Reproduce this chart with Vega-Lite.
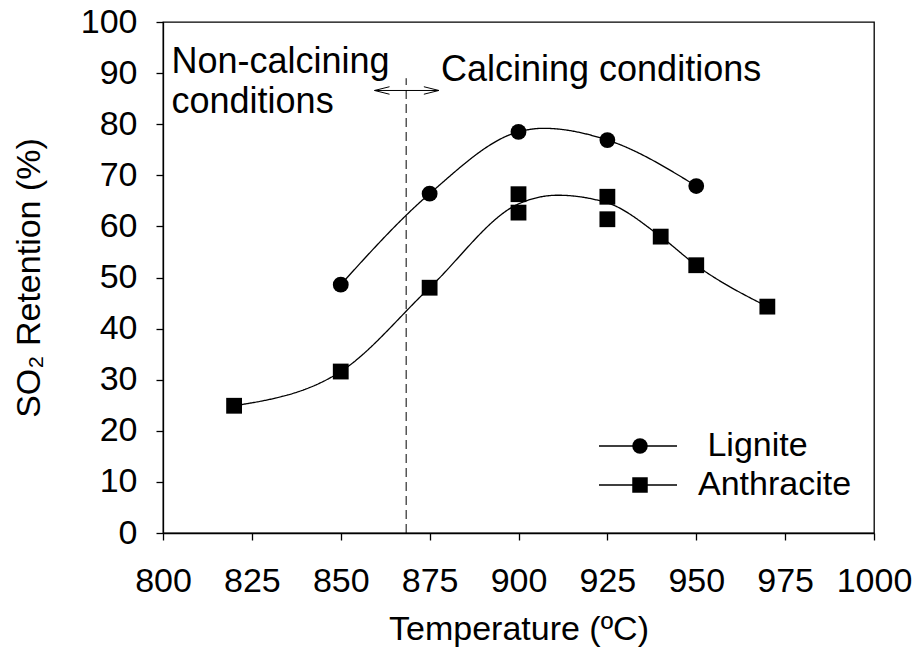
{
  "$schema": "https://vega.github.io/schema/vega-lite/v6.json",
  "width": 711,
  "height": 511,
  "autosize": {"type": "none"},
  "padding": {"left": 163, "top": 22, "right": 43, "bottom": 128},
  "background": "white",
  "config": {
    "font": "Liberation Sans",
    "view": {"stroke": "black", "strokeWidth": 1.3},
    "axis": {
      "grid": false,
      "domainColor": "black",
      "domainWidth": 1.3,
      "tickColor": "black",
      "tickWidth": 1.3,
      "tickSize": 7,
      "labelColor": "black",
      "labelFontSize": 34,
      "labelFont": "Liberation Sans",
      "labelFlush": false,
      "labelOverlap": false,
      "titleColor": "black",
      "titleFontSize": 34,
      "titleFont": "Liberation Sans",
      "titleFontWeight": "normal"
    },
    "legend": {
      "labelFontSize": 34,
      "labelFont": "Liberation Sans",
      "labelColor": "black",
      "rowPadding": 5
    }
  },
  "datasets": {
    "measured": [
      {"fuel": "Lignite", "temp": 850, "retention": 48.6},
      {"fuel": "Lignite", "temp": 875, "retention": 66.4},
      {"fuel": "Lignite", "temp": 900, "retention": 78.5},
      {"fuel": "Lignite", "temp": 925, "retention": 76.9},
      {"fuel": "Lignite", "temp": 950, "retention": 67.9},
      {"fuel": "Anthracite", "temp": 820, "retention": 24.9},
      {"fuel": "Anthracite", "temp": 850, "retention": 31.6},
      {"fuel": "Anthracite", "temp": 875, "retention": 48.0},
      {"fuel": "Anthracite", "temp": 900, "retention": 66.3},
      {"fuel": "Anthracite", "temp": 900, "retention": 62.7},
      {"fuel": "Anthracite", "temp": 925, "retention": 65.8},
      {"fuel": "Anthracite", "temp": 925, "retention": 61.4},
      {"fuel": "Anthracite", "temp": 940, "retention": 58.0},
      {"fuel": "Anthracite", "temp": 950, "retention": 52.4},
      {"fuel": "Anthracite", "temp": 970, "retention": 44.3}
    ],
    "fitted": [
      {"curve": "Lignite", "temp": 850, "retention": 48.6},
      {"curve": "Lignite", "temp": 875, "retention": 66.4},
      {"curve": "Lignite", "temp": 900, "retention": 78.5},
      {"curve": "Lignite", "temp": 907, "retention": 79.2},
      {"curve": "Lignite", "temp": 925, "retention": 76.9},
      {"curve": "Lignite", "temp": 950, "retention": 67.9},
      {"curve": "Anthracite", "temp": 820, "retention": 24.9},
      {"curve": "Anthracite", "temp": 850, "retention": 31.6},
      {"curve": "Anthracite", "temp": 875, "retention": 48.0},
      {"curve": "Anthracite", "temp": 900, "retention": 64.4},
      {"curve": "Anthracite", "temp": 911, "retention": 66.1},
      {"curve": "Anthracite", "temp": 925, "retention": 64.6},
      {"curve": "Anthracite", "temp": 940, "retention": 58.0},
      {"curve": "Anthracite", "temp": 950, "retention": 52.4},
      {"curve": "Anthracite", "temp": 970, "retention": 44.3}
    ]
  },
  "layer": [
    {
      "data": {"name": "fitted"},
      "mark": {"type": "line", "color": "black", "strokeWidth": 1.3, "interpolate": "monotone"},
      "encoding": {
        "x": {
          "field": "temp", "type": "quantitative",
          "scale": {"domain": [800, 1000], "nice": false, "zero": false},
          "axis": {
            "values": [800, 825, 850, 875, 900, 925, 950, 975, 1000],
            "format": "d",
            "title": "Temperature (ºC)",
            "labelPadding": 24,
            "titlePadding": 14
          }
        },
        "y": {
          "field": "retention", "type": "quantitative",
          "scale": {"domain": [0, 100], "nice": false},
          "axis": {
            "values": [0, 10, 20, 30, 40, 50, 60, 70, 80, 90, 100],
            "title": "SO₂ Retention (%)",
            "labelPadding": 19,
            "titlePadding": 34
          }
        },
        "strokeDash": {
          "field": "curve", "type": "nominal",
          "sort": "descending",
          "scale": {"range": [[1, 0], [1, 0]]},
          "legend": {
            "title": null,
            "orient": "none",
            "legendX": 458,
            "legendY": 407,
            "symbolType": "M-3.9,0H3.9",
            "symbolSize": 400,
            "symbolStrokeWidth": 1.3,
            "symbolStrokeColor": "black",
            "labelOffset": 41,
            "labelOpacity": 0,
            "labelExpr": "'\u200b'"
          }
        }
      }
    },
    {
      "data": {"name": "measured"},
      "mark": {"type": "point", "filled": true, "size": 250, "color": "black", "opacity": 1},
      "encoding": {
        "x": {"field": "temp", "type": "quantitative"},
        "y": {"field": "retention", "type": "quantitative"},
        "shape": {
          "field": "fuel", "type": "nominal",
          "scale": {"domain": ["Lignite", "Anthracite"], "range": ["circle", "square"]},
          "legend": {
            "title": null,
            "orient": "none",
            "legendX": 460,
            "legendY": 407,
            "symbolSize": 240,
            "symbolFillColor": "black",
            "symbolOpacity": 1,
            "labelOffset": 41,
            "labelExpr": "datum.value === 'Lignite' ? '\u200b\u00a0Lignite' : datum.label"
          }
        }
      }
    },
    {
      "data": {"values": [{}]},
      "mark": {"type": "rule", "color": "black", "strokeWidth": 1, "strokeDash": [9, 5]},
      "encoding": {
        "x": {"datum": 868.4},
        "y": {"datum": 0},
        "y2": {"datum": 89}
      }
    },
    {
      "data": {"values": [{}]},
      "mark": {"type": "rule", "color": "black", "strokeWidth": 1},
      "encoding": {
        "x": {"datum": 859.5},
        "x2": {"datum": 877.6},
        "y": {"datum": 86.6}
      }
    },
    {
      "data": {"values": [{}]},
      "mark": {"type": "point", "shape": "M2,-0.5L0,0L2,0.5", "size": 225, "filled": false, "color": "black", "strokeWidth": 1, "opacity": 1},
      "encoding": {"x": {"datum": 859.5}, "y": {"datum": 86.6}}
    },
    {
      "data": {"values": [{}]},
      "mark": {"type": "point", "shape": "M-2,-0.5L0,0L-2,0.5", "size": 225, "filled": false, "color": "black", "strokeWidth": 1, "opacity": 1},
      "encoding": {"x": {"datum": 877.6}, "y": {"datum": 86.6}}
    },
    {
      "data": {"values": [{}]},
      "mark": {"type": "text", "align": "left", "baseline": "alphabetic", "fontSize": 36, "lineHeight": 40, "color": "black", "lineBreak": "\n"},
      "encoding": {
        "x": {"datum": 802.4},
        "y": {"datum": 90.1},
        "text": {"value": "Non-calcining\nconditions"}
      }
    },
    {
      "data": {"values": [{}]},
      "mark": {"type": "text", "align": "left", "baseline": "alphabetic", "fontSize": 36, "color": "black"},
      "encoding": {
        "x": {"datum": 878.2},
        "y": {"datum": 88.5},
        "text": {"value": "Calcining conditions"}
      }
    }
  ]
}
